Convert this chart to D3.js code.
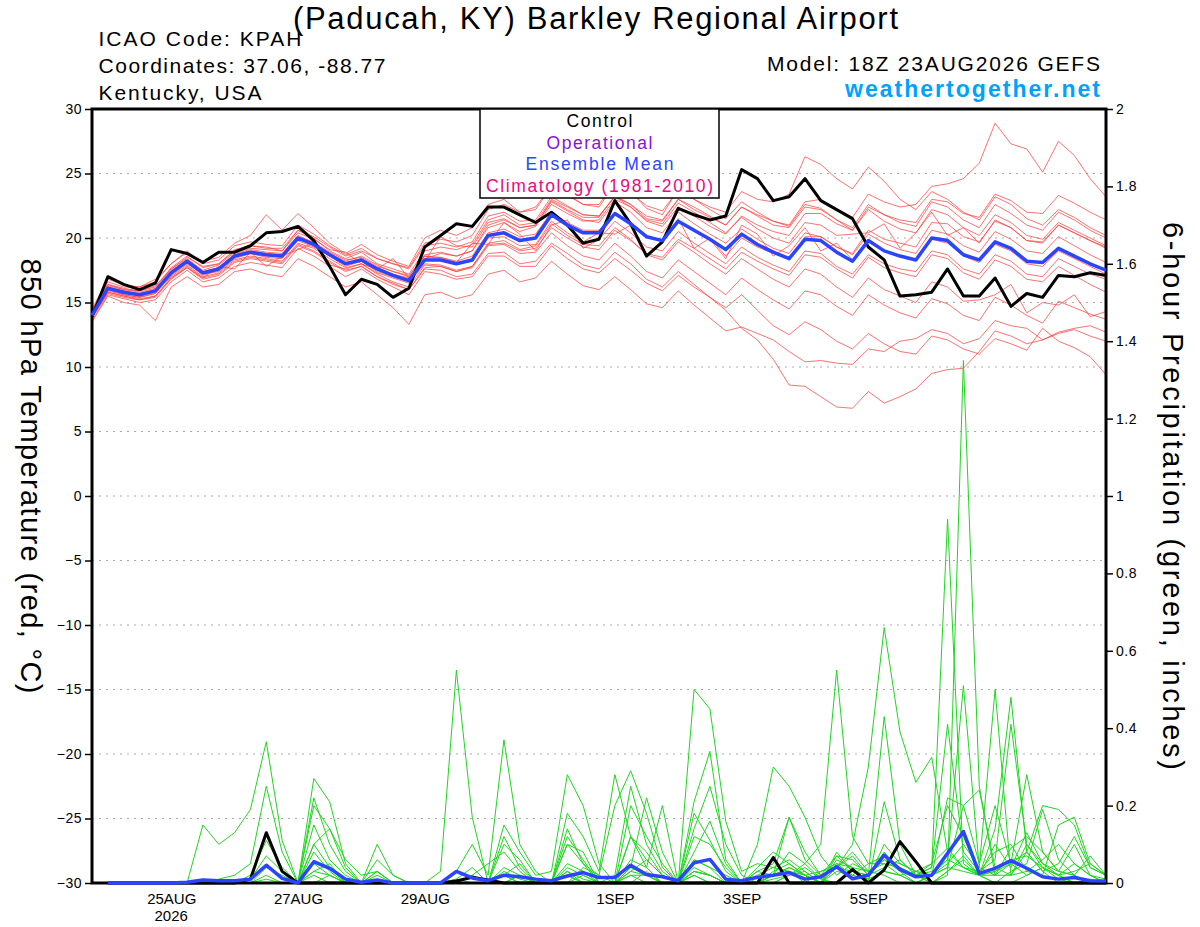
<!DOCTYPE html>
<html>
<head>
<meta charset="utf-8">
<script src="https://cdn.jsdelivr.net/npm/d3@7.9.0/dist/d3.min.js"></script>
<style>
  body { margin: 0; background: #fff; }
  svg { display: block; font-family: 'Liberation Sans', Arial, sans-serif; }
</style>
</head>
<body>
<div id="chart"></div>
<script>
// ---- data ----
const startTime = new Date(Date.UTC(2026, 7, 23, 18));
const endTime = new Date(Date.UTC(2026, 8, 8, 18));

const tempTicks = [-30, -25, -20, -15, -10, -5, 0, 5, 10, 15, 20, 25, 30];
const precipTicks = [0, 0.2, 0.4, 0.6, 0.8, 1, 1.2, 1.4, 1.6, 1.8, 2];
const dateTicks = [
  Date.UTC(2026, 7, 25), Date.UTC(2026, 7, 27), Date.UTC(2026, 7, 29), Date.UTC(2026, 8, 1),
  Date.UTC(2026, 8, 3), Date.UTC(2026, 8, 5), Date.UTC(2026, 8, 7)
];
const dateLabels = ['25AUG', '27AUG', '29AUG', '1SEP', '3SEP', '5SEP', '7SEP'];

const legendItems = [
  { label: 'Control', color: '#000000', len: 66 },
  { label: 'Operational', color: '#8a10e0', len: 106 },
  { label: 'Ensemble Mean', color: '#2b45ff', len: 148 },
  { label: 'Climatology (1981-2010)', color: '#ea0a80', len: 227 }
];

// 850 hPa temperature, 6-hourly from 18Z 23AUG (65 values)
const controlTemp = [
  13.9, 17.0, 16.4, 16.0, 16.5, 19.1, 18.8, 18.1, 18.9, 18.9, 19.4, 20.4, 20.5, 20.9, 19.8, 17.8,
  15.6, 16.8, 16.4, 15.4, 16.1, 19.3, 20.2, 21.1, 20.9, 22.4, 22.4, 21.8, 21.2, 22.0, 21.0, 19.6,
  19.9, 22.9, 21.1, 18.6, 19.7, 22.3, 21.8, 21.4, 21.7, 25.3, 24.6, 22.9, 23.2, 24.6, 22.9, 22.2,
  21.5, 19.3, 18.3, 15.5, 15.6, 15.8, 17.6, 15.5, 15.5, 16.9, 14.7, 15.7, 15.4, 17.1, 17.0, 17.3, 17.1
];
const meanTemp = [
  14.0, 16.1, 15.8, 15.6, 15.9, 17.3, 18.2, 17.3, 17.6, 18.6, 18.9, 18.7, 18.6, 20.0, 19.5, 18.7,
  18.0, 18.3, 17.6, 17.1, 16.7, 18.3, 18.3, 18.0, 18.3, 20.2, 20.4, 19.8, 20.0, 21.8, 21.0, 20.4,
  20.4, 21.9, 21.1, 20.1, 19.8, 21.3, 20.6, 19.9, 19.1, 20.3, 19.5, 18.9, 18.4, 19.9, 19.8, 18.9,
  18.2, 19.8, 19.0, 18.6, 18.3, 20.0, 19.8, 18.7, 18.3, 19.7, 19.2, 18.2, 18.1, 19.2, 18.6, 18.0, 17.5
];
const memberTemps = [
  [14.2,16.4,16.0,15.9,16.3,17.6,18.5,17.8, 18.0,19.0,19.4,19.3,19.0,20.6,20.0,19.0, 18.4,18.9,18.0,17.6,17.2,19.0,19.3,19.1,
   19.5,21.4,21.8,21.0,21.2,23.0,22.4,21.8, 21.7,23.2,22.6,21.5,21.3,23.0,22.2,21.6, 21.0,22.4,21.8,21.3,21.0,22.8,23.0,22.2,
   21.6,23.4,22.8,22.4,22.6,24.0,24.2,24.6, 25.8,28.9,27.3,26.9,25.1,27.5,26.4,24.6,23.2],
  [14.4,16.6,16.2,16.2,16.8,18.0,18.9,18.2, 18.5,19.6,20.2,21.8,20.6,21.9,20.8,19.6, 18.8,19.5,18.7,18.2,17.8,20.0,20.6,20.2,
   20.8,22.6,23.0,22.0,22.4,24.0,23.4,22.6, 22.4,24.2,23.6,22.3,21.8,23.8,23.0,22.4, 22.0,23.6,23.0,22.8,23.4,26.3,25.7,24.6,
   23.8,25.5,24.4,23.0,22.2,23.6,23.0,22.0, 21.4,23.2,22.6,21.5,21.0,22.2,21.6,20.8,20.2],
  [13.6,15.6,15.3,15.0,15.2,16.6,17.5,16.6, 16.9,17.8,18.1,17.9,17.7,19.2,18.6,17.8, 17.0,17.6,16.8,16.2,15.6,17.4,17.2,16.8,
   17.0,18.6,18.6,17.8,17.8,19.4,18.4,17.6, 17.3,18.4,17.5,16.5,15.9,17.1,16.2,15.4, 14.4,13.0,12.1,10.6,8.6,8.5,7.7,6.9,
   6.8,8.1,7.2,7.7,8.3,9.5,9.8,9.9, 11.2,12.8,12.4,11.8,12.1,12.6,12.9,12.4,12.0],
  [13.8,15.8,15.5,15.2,15.5,16.9,17.8,16.9, 17.2,18.2,18.5,18.3,18.1,19.5,19.0,18.2, 17.5,17.8,17.0,16.5,16.0,17.6,17.5,17.0,
   17.2,18.8,18.9,18.0,18.2,19.6,18.8,17.9, 17.6,18.9,18.0,16.8,16.2,17.4,16.4,15.4, 14.6,15.6,14.4,13.2,12.5,13.5,12.9,12.0,
   11.4,12.6,11.8,11.2,11.0,12.4,12.1,11.4, 11.0,12.2,11.8,11.3,13.0,12.0,11.5,10.8,9.4],
  [13.5,15.5,15.0,14.8,13.6,16.2,17.0,16.2, 16.4,17.4,17.6,17.2,17.0,18.4,17.8,17.0, 16.2,16.6,15.6,14.6,13.3,15.6,15.8,15.3,
   15.6,17.2,17.5,16.6,16.9,18.2,17.2,16.3, 16.0,17.0,16.0,14.9,14.6,15.9,14.8,13.8, 12.8,13.1,12.6,12.1,11.2,10.4,10.5,10.3,
   10.2,11.4,11.2,12.0,12.2,12.9,12.6,11.8, 12.2,13.6,13.2,13.0,12.1,12.7,13.0,13.2,12.7],
  [13.9,16.0,15.6,15.4,15.7,17.0,17.9,17.0, 17.3,18.3,18.6,18.4,18.2,19.6,19.2,18.4, 17.7,18.0,17.2,16.6,16.2,17.9,17.8,17.4,
   17.7,19.4,19.5,18.8,18.9,20.4,19.4,18.6, 18.3,19.6,18.6,17.4,16.9,18.3,17.4,16.5, 15.6,16.9,16.0,15.2,14.5,15.9,15.6,14.7,
   14.0,15.6,14.8,14.2,13.8,15.3,14.9,14.0, 13.6,15.4,14.8,14.0,13.4,15.1,14.6,14.1,13.7],
  [14.1,16.3,16.0,15.8,16.1,17.6,18.4,17.5, 17.9,18.9,19.2,19.1,19.0,20.4,19.9,19.1, 18.9,18.0,17.6,18.4,16.9,18.2,20.1,19.4,
   19.3,21.2,21.5,20.8,21.0,22.8,22.1,21.4, 21.2,22.8,22.0,20.8,20.4,22.0,21.1,20.3, 19.6,20.7,19.9,19.2,18.8,20.4,20.1,19.3,
   18.7,20.3,19.6,19.1,18.8,20.6,20.3,19.4, 18.9,20.5,19.9,19.0,18.8,20.1,19.4,18.7,18.1],
  [14.3,16.0,15.9,15.5,15.8,17.1,18.0,17.2, 17.4,18.4,18.8,18.6,18.5,19.8,19.3,18.6, 17.8,18.2,17.4,17.0,16.6,18.4,18.8,18.6,
   19.0,20.8,21.2,20.5,20.9,22.6,21.9,21.3, 21.4,23.0,22.4,21.4,21.1,22.7,22.0,21.2, 20.4,21.6,20.7,20.0,19.6,21.2,21.0,20.2,
   20.3,20.4,21.1,19.2,20.4,22.0,20.2,20.8, 19.6,21.4,20.8,19.8,19.6,21.0,20.4,19.8,19.3],
  [13.9,15.9,15.6,15.4,15.7,17.2,18.1,17.1, 17.5,18.5,18.8,18.5,18.4,19.9,19.4,18.6, 18.0,18.4,17.7,17.2,16.9,18.6,18.5,18.1,
   19.6,19.5,21.2,20.3,19.0,21.0,21.4,19.2, 19.9,21.3,20.4,19.3,19.0,20.5,19.6,18.8, 18.0,19.3,18.5,17.9,17.4,19.0,18.8,17.8,
   17.2,18.7,18.0,17.6,17.4,19.0,18.7,17.6, 17.2,18.7,18.2,17.2,17.0,18.4,17.8,17.2,16.8],
  [14.0,16.2,15.9,15.7,16.0,17.5,18.3,17.4, 17.7,18.8,19.1,18.9,18.8,20.2,19.6,18.8, 18.2,18.6,17.9,17.4,17.0,18.7,18.9,18.6,
   19.0,21.0,21.4,20.8,21.0,22.9,22.2,21.6, 21.6,23.3,22.6,21.7,21.4,23.0,22.4,21.7, 21.0,22.4,21.7,21.0,20.8,22.4,22.2,21.4,
   20.8,22.6,21.8,21.2,20.9,22.8,22.4,21.4, 20.8,22.6,21.9,21.0,20.6,22.0,21.4,20.6,20.0],
  [14.5,16.8,16.4,16.2,16.6,18.0,19.0,18.0, 18.3,19.4,19.7,19.5,19.4,21.0,20.3,19.4, 18.7,19.2,18.4,18.0,17.7,19.6,19.9,19.7,
   20.2,22.2,22.6,22.0,22.2,24.0,23.3,22.6, 22.6,24.3,23.5,22.5,22.1,23.7,23.0,22.2, 21.5,22.8,22.0,21.3,20.9,22.6,22.3,21.4,
   20.6,22.2,21.3,20.7,20.4,22.2,21.8,20.8, 20.2,21.8,21.2,20.2,19.9,21.2,20.6,20.0,19.4],
  [14.0,15.8,15.5,15.3,15.5,16.9,17.7,16.8, 17.1,18.1,18.4,18.2,18.0,19.4,18.9,18.1, 17.4,17.8,17.0,16.4,16.0,17.7,17.8,17.4,
   17.8,19.6,19.8,19.1,19.4,21.1,20.2,19.5, 19.4,20.8,19.9,18.7,18.3,19.7,18.9,18.0, 17.2,18.4,17.6,16.8,16.2,17.6,17.2,16.2,
   15.4,16.9,16.0,15.5,15.0,16.6,16.2,15.1, 15.2,15.6,16.4,14.2,15.0,14.8,15.6,13.9,14.3],
  [14.2,16.1,15.7,15.6,16.0,17.4,18.3,17.4, 17.7,18.7,19.0,18.8,18.7,20.1,19.7,18.9, 18.3,18.5,17.8,17.4,17.1,18.6,18.4,18.0,
   18.2,20.0,20.1,19.4,19.5,21.3,20.4,19.7, 20.4,20.3,21.0,18.6,19.8,21.5,19.2,20.0, 18.6,20.0,19.3,18.8,18.4,20.1,20.1,19.3,
   18.8,20.6,19.9,19.6,19.3,21.2,21.1,20.1, 19.7,21.3,20.8,19.8,19.7,21.0,20.4,19.8,19.2],
  [13.8,15.7,15.4,15.2,15.4,16.8,17.7,16.9, 17.8,17.6,18.9,17.8,18.6,19.1,19.6,17.9, 17.6,18.0,17.3,16.9,16.5,18.0,17.9,17.5,
   17.8,19.5,19.6,19.0,19.2,20.8,20.0,19.3, 19.1,20.6,19.8,18.8,18.5,19.9,19.2,18.4, 17.6,18.9,18.2,17.6,17.1,18.7,18.5,17.6,
   16.9,18.5,17.7,17.3,17.0,18.7,18.4,17.3, 16.8,18.3,17.8,16.8,16.6,17.8,17.1,16.4,15.8],
  [14.3,16.4,16.1,15.9,16.2,17.7,18.6,17.7, 18.0,19.1,19.4,19.2,19.2,20.6,20.1,19.3, 18.6,19.0,18.4,18.0,17.6,19.4,19.6,19.3,
   19.7,21.7,22.0,21.3,21.4,23.2,22.5,21.8, 21.7,23.2,22.4,21.3,20.9,22.4,21.7,20.9, 20.3,21.7,21.0,20.5,20.2,21.9,21.9,21.1,
   20.6,22.4,21.8,21.4,21.2,23.0,22.8,21.9, 21.6,23.4,22.9,22.0,21.9,23.3,22.7,22.0,21.4],
  [14.1,16.0,15.7,15.5,15.9,17.2,18.1,17.2, 17.6,18.6,18.9,18.7,18.6,19.9,19.5,18.7, 18.0,18.3,17.6,17.1,16.8,18.4,18.5,18.2,
   18.6,20.4,20.7,20.1,20.3,22.0,21.2,20.6, 20.6,22.0,21.2,20.2,19.8,21.3,20.6,19.9, 18.4,21.0,20.3,18.6,19.4,20.8,19.0,19.6,
   18.3,19.8,19.0,18.6,18.3,19.9,19.6,18.6, 18.1,19.5,19.0,18.0,17.8,19.0,18.4,17.8,17.2]
];

// 6-hour precipitation (inches), periods ending 00Z 24AUG .. 18Z 8SEP (64 values)
const controlPrecip = [
  0,0,0,0,0,0,0,0, 0,.01,.13,.03,0,0,0,0, 0,0,0,0,0,0,.005,.015, .008,0,0,0,0,0,0,0,
  0,0,0,0,0,0,0,0, 0,0,.066,0,0,0,0,.035, 0,.034,.107,.055,0,0,0,0, 0,0,0,0,0,0,0,0
];
const meanPrecip = [
  0,0,0,0,0,.002,.008,.006, .006,.01,.046,.012,0,.055,.038,.01, .002,.008,0,0,0,0,.03,.013,
  .006,.02,.016,.01,.006,.018,.027,.014, .014,.046,.022,.016,.006,.052,.061,.01, .006,.015,.02,.027,.01,.016,.042,.011,
  .02,.072,.035,.016,.02,.077,.133,.025, .038,.058,.038,.016,.01,.014,.006,.005
];
const memberPrecips = [
  [0,0,0,0,0,0,.15,.10, .13,.19,.365,.11,0,.03,.05,0, 0,0,0,0,0,0,0,.02, .05,.08,.03,0,0,.10,.05,0,
   0,.12,.08,.02,0,.06,.04,0, 0,0,.03,.05,.02,0,.04,.08, .03,.02,0,0,0,.03,.06,.02, 0,0,.02,.04,.01,0,0,0],
  [0,0,0,0,0,0,0,.01, .02,.05,.25,.08,0,.10,.14,.06, .02,.03,0,0,0,.03,.55,.17, 0,.02,.05,0,0,0,.04,.02,
   0,.03,.06,.02,0,.08,.16,.05, 0,0,0,.02,.05,.01,0,.03, .02,.08,.03,0,.02,.05,.10,.04, .02,.05,.08,.03,0,0,.01,0],
  [0,0,0,0,0,0,0,0, 0,.02,.11,.04,0,.27,.21,.05, 0,.10,.02,0,0,0,.03,.10, .02,.37,.10,.03,0,.12,.06,0,
   0,.04,.22,.08,0,.04,.02,0, 0,.02,.04,.06,.03,0,.06,.04, 0,.21,.06,.02,0,.03,.07,.02, 0,.03,.05,.19,.06,.02,0,0],
  [0,0,0,0,0,0,.01,0, 0,.01,.07,.03,0,.22,.10,.03, 0,.03,0,0,0,0,.01,.04, 0,.15,.08,.02,.03,.28,.20,.05,
   0,.20,.12,.05,0,.14,.25,.10, .02,0,.02,.17,.08,.02,.04,.07, .02,.43,.10,.02,.04,.41,.08,.03, .06,.41,.10,.05,.02,0,0,0],
  [0,0,0,0,0,0,0,0, 0,0,.04,.02,0,.20,.14,.04, 0,.06,.02,0,0,0,0,.02, 0,.12,.04,0,0,.18,.12,.03,
   .28,.12,.04,.20,0,.21,.34,.06, 0,.04,.08,.05,.02,0,.08,.03, 0,.03,.02,0,.02,.22,.20,.24, .04,.02,.03,.02,.15,.17,.05,.02],
  [0,0,0,0,0,0,0,0, 0,0,.02,0,0,.15,.06,.02, 0,0,0,0,0,0,0,0, 0,.10,.06,0,0,.14,.05,.02,
   .20,.29,.18,.04,0,.18,.11,.03, 0,.03,.05,.17,.06,.02,.07,.03, .01,.10,.05,.03,.02,.04,.20,.05, .20,.05,.28,.08,.03,.10,.02,0],
  [0,0,0,0,0,0,0,0, 0,0,.01,0,0,.10,.04,0, 0,.03,0,0,0,0,.01,0, 0,.04,.02,0,0,.10,.08,0,
   .02,.25,.10,.03,0,.50,.45,.16, .03,.05,.04,.03,0,.03,.05,.02, .05,.05,.02,.03,.05,.09,.04,.02, .03,.06,.07,.04,.02,0,0,0],
  [0,0,0,0,0,0,0,0, 0,0,0,0,0,.08,.03,0, 0,.02,0,0,0,0,0,0, 0,.03,.01,0,0,.05,.03,0,
   0,.12,.06,.02,0,.12,.10,.04, 0,.10,.30,.25,.17,.07,.02,.05, .03,.06,.03,.02,.03,.06,.04,.03, .08,.10,.03,.06,.10,.05,.02,0],
  [0,0,0,0,0,0,0,0, 0,0,0,0,0,.05,.02,0, 0,0,0,0,0,0,0,0, 0,.02,0,0,0,.04,.02,0,
   0,.06,.04,0,0,.06,.04,.02, 0,.03,.02,.08,.05,.10,.55,.12, .05,.07,.04,.02,.05,.20,.12,.02, .02,.09,.12,.08,.03,.02,0,0],
  [0,0,0,0,0,0,0,0, 0,0,0,0,0,0,.02,0, 0,0,0,0,0,0,0,0, 0,0,.02,0,0,.02,0,0,
   0,.04,.02,0,0,.03,.02,0, 0,0,.02,.03,.02,.03,.04,.10, .30,.66,.39,.26,.325,.08,.04,.02, .03,.05,.02,.04,.02,.05,.02,.01],
  [0,0,0,0,0,0,0,0, 0,0,0,0,0,0,0,0, 0,0,0,0,0,0,0,0, 0,0,0,0,0,.03,.01,0,
   0,.02,0,0,0,.02,0,0, 0,0,.02,.04,.02,0,.05,.04, .03,.05,.04,.02,.04,.94,.05,.02, .10,.04,.13,.05,.03,.02,.07,.02],
  [0,0,0,0,0,0,0,0, 0,0,0,0,0,.03,.02,0, 0,0,0,0,0,0,0,0, 0,.02,0,0,0,.02,0,0,
   0,.03,.02,0,0,.03,.02,0, 0,0,0,.02,.03,0,.07,.06, .02,.04,.06,.02,0,.02,1.35,.25, .02,.02,.10,.04,.02,.03,.05,.02],
  [0,0,0,0,0,0,0,0, 0,0,0,0,0,0,0,0, 0,0,0,0,0,0,0,0, 0,0,.02,0,0,0,.02,0,
   0,.02,.02,0,0,.03,.02,0, 0,0,.01,.02,.04,.01,.04,.03, .02,.06,.05,.03,.02,.06,.51,.04, .50,.02,.08,.20,.19,.15,.04,.02],
  [0,0,0,0,0,0,0,0, 0,0,0,0,0,.02,0,0, 0,0,0,0,0,0,0,0, 0,0,0,0,0,.03,0,0,
   0,0,.03,0,0,.02,0,0, 0,0,.02,.04,.02,0,.03,.02, .01,.03,.02,0,.02,.04,.03,.02, .14,.48,.08,.03,.05,.12,.04,.02]
];

// ---- layout ----
const width = 1200;
const height = 927;
const margin = { top: 109, right: 94, bottom: 44, left: 92 };

const tempTimes = d3.utcHour.every(6).range(startTime, d3.utcHour.offset(endTime, 1));
const precipTimes = tempTimes.slice(1);

const svg = d3.select('#chart')
  .append('svg')
  .attr('width', width)
  .attr('height', height);

const x = d3.scaleUtc()
  .domain([startTime, endTime])
  .range([margin.left, width - margin.right]);

const yT = d3.scaleLinear()
  .domain([-30, 30])
  .range([height - margin.bottom, margin.top]);

const yP = d3.scaleLinear()
  .domain([0, 2])
  .range([height - margin.bottom, margin.top]);

// dotted grid
svg.append('g')
  .selectAll('line')
  .data(tempTicks.filter(d => d > -30 && d < 30))
  .join('line')
  .attr('x1', margin.left)
  .attr('x2', width - margin.right)
  .attr('y1', d => yT(d))
  .attr('y2', d => yT(d))
  .attr('stroke', '#aaaaaa')
  .attr('stroke-width', 1)
  .attr('stroke-dasharray', '2,5');

const tLine = d3.line()
  .x((d, i) => x(tempTimes[i]))
  .y(d => yT(d));

const pLine = d3.line()
  .x((d, i) => x(precipTimes[i]))
  .y(d => yP(d));

// ensemble members
svg.append('g')
  .selectAll('path')
  .data(memberTemps)
  .join('path')
  .attr('fill', 'none')
  .attr('stroke', '#ff3a3a')
  .attr('stroke-opacity', 0.72)
  .attr('stroke-width', 1)
  .attr('d', tLine);

svg.append('g')
  .selectAll('path')
  .data(memberPrecips)
  .join('path')
  .attr('fill', 'none')
  .attr('stroke', '#1fd61f')
  .attr('stroke-width', 1)
  .attr('d', pLine);

// frame
svg.append('rect')
  .attr('x', margin.left)
  .attr('y', margin.top)
  .attr('width', width - margin.left - margin.right)
  .attr('height', height - margin.top - margin.bottom)
  .attr('fill', 'none')
  .attr('stroke', 'black')
  .attr('stroke-width', 3);

// control and mean
svg.append('path')
  .datum(controlTemp)
  .attr('fill', 'none')
  .attr('stroke', 'black')
  .attr('stroke-width', 3)
  .attr('stroke-linejoin', 'round')
  .attr('d', tLine);

svg.append('path')
  .datum(meanTemp)
  .attr('fill', 'none')
  .attr('stroke', '#2b45ff')
  .attr('stroke-width', 3.5)
  .attr('stroke-linejoin', 'round')
  .attr('d', tLine);

svg.append('path')
  .datum(controlPrecip)
  .attr('fill', 'none')
  .attr('stroke', 'black')
  .attr('stroke-width', 3)
  .attr('stroke-linejoin', 'round')
  .attr('d', pLine);

svg.append('path')
  .datum(meanPrecip)
  .attr('fill', 'none')
  .attr('stroke', '#2b45ff')
  .attr('stroke-width', 3.5)
  .attr('stroke-linejoin', 'round')
  .attr('d', pLine);

// axes
const leftAxis = svg.append('g')
  .attr('transform', `translate(${margin.left - 1},0)`)
  .call(d3.axisLeft(yT).tickValues(tempTicks).tickSize(6).tickPadding(3));

const rightAxis = svg.append('g')
  .attr('transform', `translate(${width - margin.right + 1},0)`)
  .call(d3.axisRight(yP).tickValues(precipTicks).tickSize(6).tickPadding(3)
    .tickFormat(d => String(+d.toFixed(1))));

[leftAxis, rightAxis].forEach(g => {
  g.select('.domain').remove();
  g.selectAll('.tick line').attr('stroke-width', 1.5);
  g.selectAll('.tick text')
    .attr('font-size', 14)
    .attr('font-family', "'Liberation Sans', Arial, sans-serif")
    .attr('letter-spacing', 0.5)
    .attr('fill', 'black');
});

const bottomAxis = svg.append('g')
  .attr('transform', `translate(0,${height - margin.bottom})`)
  .call(d3.axisBottom(x).tickValues(dateTicks.map(d => new Date(d))).tickSize(0).tickPadding(10)
    .tickFormat((d, i) => dateLabels[i]));
bottomAxis.select('.domain').remove();
bottomAxis.selectAll('.tick text')
  .attr('font-size', 15)
  .attr('font-family', "'Liberation Sans', Arial, sans-serif")
  .attr('fill', 'black');

svg.append('text')
  .attr('x', x(new Date(dateTicks[0])))
  .attr('y', 921)
  .attr('text-anchor', 'middle')
  .attr('font-size', 15)
  .text('2026');

// axis titles
svg.append('text')
  .attr('transform', 'translate(21,476) rotate(90)')
  .attr('text-anchor', 'middle')
  .attr('font-size', 29)
  .attr('textLength', 435)
  .attr('lengthAdjust', 'spacing')
  .text('850 hPa Temperature (red, °C)');

svg.append('text')
  .attr('transform', 'translate(1163,496) rotate(90)')
  .attr('text-anchor', 'middle')
  .attr('font-size', 29)
  .attr('textLength', 548)
  .attr('lengthAdjust', 'spacing')
  .text('6-hour Precipitation (green, inches)');

// header texts
svg.append('text')
  .attr('x', 595.5)
  .attr('y', 29)
  .attr('text-anchor', 'middle')
  .attr('font-size', 31)
  .attr('textLength', 605)
  .attr('lengthAdjust', 'spacing')
  .text('(Paducah, KY) Barkley Regional Airport');

const infoLines = [
  { text: 'ICAO Code: KPAH', len: 203 },
  { text: 'Coordinates: 37.06, -88.77', len: 287 },
  { text: 'Kentucky, USA', len: 163 }
];
svg.append('g')
  .selectAll('text')
  .data(infoLines)
  .join('text')
  .attr('x', 98.5)
  .attr('y', (d, i) => 46 + i * 27)
  .attr('font-size', 21)
  .attr('textLength', d => d.len)
  .attr('lengthAdjust', 'spacing')
  .text(d => d.text);

svg.append('text')
  .attr('x', 1100)
  .attr('y', 71)
  .attr('text-anchor', 'end')
  .attr('font-size', 21)
  .attr('textLength', 333)
  .attr('lengthAdjust', 'spacing')
  .text('Model: 18Z 23AUG2026 GEFS');

svg.append('text')
  .attr('x', 1100)
  .attr('y', 97)
  .attr('text-anchor', 'end')
  .attr('font-size', 23)
  .attr('font-weight', 'bold')
  .attr('fill', '#00a2ff')
  .attr('textLength', 255)
  .attr('lengthAdjust', 'spacing')
  .text('weathertogether.net');

// legend
const legend = svg.append('g');
legend.append('rect')
  .attr('x', 480)
  .attr('y', margin.top)
  .attr('width', 239)
  .attr('height', 89)
  .attr('fill', 'white')
  .attr('stroke', 'black')
  .attr('stroke-width', 1.5);

legend.selectAll('text')
  .data(legendItems)
  .join('text')
  .attr('x', 599.5)
  .attr('y', (d, i) => 127 + i * 21.5)
  .attr('text-anchor', 'middle')
  .attr('font-size', 17.5)
  .attr('textLength', d => d.len)
  .attr('lengthAdjust', 'spacing')
  .attr('fill', d => d.color)
  .text(d => d.label);
</script>
</body>
</html>
